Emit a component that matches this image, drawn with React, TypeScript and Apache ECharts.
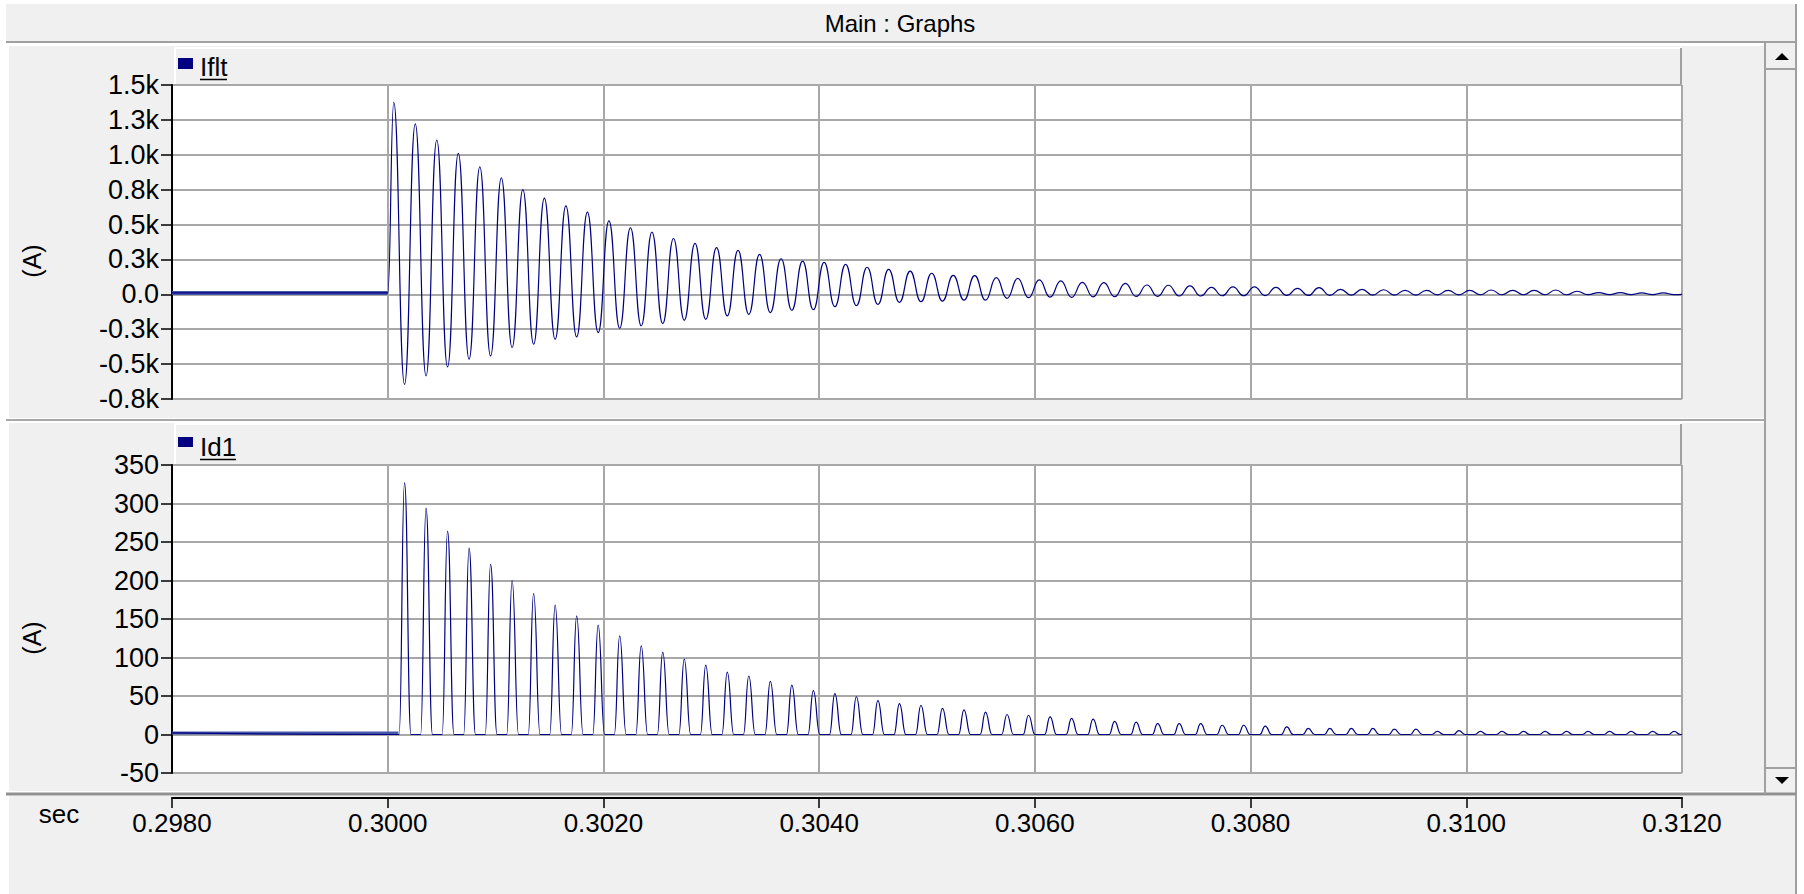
import React, { useEffect, useRef } from 'react';
import * as echarts from 'echarts';

// ---------------- data ----------------
const T_START = 0.298;
const T_END = 0.312;
const FAULT_T = 0.3;
const PEAK_T0 = 0.300056; // time of first Iflt peak (s)
const PERIOD = 0.0001995; // ringing period (s)

const X_TICK_LABELS = ['0.2980', '0.3000', '0.3020', '0.3040', '0.3060', '0.3080', '0.3100', '0.3120'];
const IFLT_TICK_LABELS = ['-0.8k', '-0.5k', '-0.3k', '0.0', '0.3k', '0.5k', '0.8k', '1.0k', '1.3k', '1.5k'];
const ID1_TICK_LABELS = ['-50', '0', '50', '100', '150', '200', '250', '300', '350'];

const IFLT_PRE = 10;
const ID1_PRE = 2;

const ifltPeaks = [
  1375, 1222, 1106, 1010, 913, 834, 751, 689, 634, 589, 527, 477, 446, 400, 365, 334, 315, 286, 255, 238,
  229, 215, 194, 179, 167, 151, 136, 134, 120, 115, 103, 96, 86, 84, 79, 67, 65, 60, 50, 53,
  53, 50, 43, 48, 36, 36, 33, 29, 29, 29, 29, 31, 29, 29, 31, 22, 12, 12, 10, 10,
];
const ifltTroughs = [
  -645, -584, -520, -465, -441, -381, -357, -322, -305, -274, -243, -226, -210, -186, -179, -155, -143, -131, -114, -110,
  -88, -81, -72, -57, -53, -48, -41, -41, -29, -24, -20, -22, -18, -17, -15, -14, -12, -12, -10, -10,
  -9, -8, -8, -7, -6, -6, -5, -5, -4, -4, -3, -3, -3, -3, -3, -2, -2, -2, -2, -2,
];
const id1Peaks = [
  327, 294, 264, 242, 221, 200, 183, 168, 154, 142, 128, 115, 107, 98, 90, 81, 76, 69, 64, 57,
  53, 49, 44, 40, 38, 34, 32, 29, 26, 25, 23, 21, 20, 17, 16, 14, 14, 14, 12, 12,
  11, 10, 8, 8, 8, 8, 7, 7, 4, 5, 4, 4, 4, 4, 4, 4, 4, 4, 4, 4,
];

// pulse edges of Id1 around each peak (s)
const PULSE_RISE = 0.00005;
const PULSE_FALL = 0.00006;

function buildIflt(): number[][] {
  const d: number[][] = [[T_START, IFLT_PRE], [FAULT_T, IFLT_PRE]];
  ifltPeaks.forEach((p, k) => {
    d.push([PEAK_T0 + k * PERIOD, p]);
    d.push([PEAK_T0 + (k + 0.5) * PERIOD, ifltTroughs[k]]);
  });
  d.push([T_END, 0]);
  return d;
}

function buildId1(): number[][] {
  const d: number[][] = [[T_START, ID1_PRE]];
  id1Peaks.forEach((p, k) => {
    const tc = PEAK_T0 + (k + 0.5) * PERIOD;
    d.push([tc - PULSE_RISE, 0]);
    d.push([tc, p]);
    d.push([tc + PULSE_FALL, 0]);
  });
  d.push([T_END, 0]);
  return d;
}

const FONT = "'Liberation Sans', Arial, sans-serif";
const NAVY = '#000080';
const GRID_GRAY = '#a8a8a8';
const PANEL = '#f0f0f0';

export default function App() {
  const ref = useRef<HTMLDivElement>(null);

  useEffect(() => {
    const chart = echarts.init(ref.current!, null, { renderer: 'svg' });

    const txt = (text: string, x: number, y: number, size: number, align = 'left', extra: any = {}) => ({
      type: 'text',
      x,
      y,
      z: 0,
      z2: 5,
      ...extra,
      style: {
        text,
        fontSize: size,
        fontFamily: FONT,
        fill: '#000',
        align,
        textAlign: align,
        verticalAlign: 'middle',
        textVerticalAlign: 'middle',
      },
    });
    const rect = (x: number, y: number, w: number, h: number, fill: string, z2 = 0) => ({
      type: 'rect',
      z: 0,
      z2,
      shape: { x, y, width: w, height: h },
      style: { fill },
    });
    const line = (x1: number, y1: number, x2: number, y2: number, stroke: string, lw: number, z2 = 3) => ({
      type: 'line',
      z: 0,
      z2,
      shape: { x1, y1, x2, y2 },
      style: { stroke, lineWidth: lw },
    });

    const graphics: any[] = [
      // title bar
      rect(6, 4, 1790, 38, PANEL, 0),
      line(6, 42, 1796, 42, '#a0a0a0', 2),
      line(1796, 4, 1796, 894, '#a0a0a0', 2),
      txt('Main : Graphs', 900, 23, 24, 'center'),
      // panels
      rect(9, 46, 1756, 372, PANEL, 0),
      line(6, 420, 1765, 420, GRID_GRAY, 2),
      rect(9, 423, 1756, 368, PANEL, 0),
      line(6, 794, 1796, 794, '#909090', 3),
      rect(9, 796, 1786, 98, PANEL, 0),
      // headers
      rect(175, 48, 1507, 37, PANEL, 1),
      line(175, 48, 1681, 48, '#ffffff', 2),
      line(175, 48, 175, 85, '#ffffff', 2),
      line(1681, 48, 1681, 85, '#a0a0a0', 2),
      rect(175, 424, 1507, 41, PANEL, 1),
      line(175, 424, 1681, 424, '#ffffff', 2),
      line(175, 424, 175, 465, '#ffffff', 2),
      line(1681, 424, 1681, 465, '#a0a0a0', 2),
      // plot backgrounds
      rect(172, 85, 1510, 314, '#ffffff', 1),
      rect(172, 465, 1510, 308, '#ffffff', 1),
      // legends
      rect(178, 58, 15, 11, NAVY, 4),
      txt('Iflt', 200, 67, 26),
      line(200, 79.5, 227, 79.5, '#000', 1.5),
      rect(178, 437, 15, 10, NAVY, 4),
      txt('Id1', 200, 447, 26),
      line(200, 459.5, 236, 459.5, '#000', 1.5),
      // axis titles
      txt('(A)', 32, 261, 25, 'center', { rotation: Math.PI / 2 }),
      txt('(A)', 32, 638, 25, 'center', { rotation: Math.PI / 2 }),
      txt('sec', 59, 814, 26, 'center'),
      // scrollbar
      rect(1765, 43, 31, 751, PANEL, 2),
      line(1765, 43, 1765, 794, '#a0a0a0', 2),
      line(1765, 69, 1796, 69, '#a0a0a0', 2),
      line(1765, 768, 1796, 768, '#a0a0a0', 2),
      {
        type: 'polygon', z: 0, z2: 6,
        shape: { points: [[1775, 60], [1789, 60], [1782, 53]] },
        style: { fill: '#000' },
      },
      {
        type: 'polygon', z: 0, z2: 6,
        shape: { points: [[1775, 777], [1789, 777], [1782, 784]] },
        style: { fill: '#000' },
      },
    ];

    const xLabel = (v: number) => X_TICK_LABELS[Math.round((v - T_START) / 0.002)] ?? '';

    const waveLine = { color: NAVY, width: 1.2 };
    const preLine = { color: '#4858a8', width: 4 };

    const option: any = {
      animation: false,
      backgroundColor: '#ffffff',
      textStyle: { fontFamily: FONT },
      graphic: { elements: graphics },
      grid: [
        { left: 172, top: 85, width: 1510, height: 314, show: false },
        { left: 172, top: 465, width: 1510, height: 308, show: false },
      ],
      xAxis: [
        {
          gridIndex: 0, type: 'value', min: T_START, max: T_END, interval: 0.002, z: 5,
          axisLine: { show: false }, axisTick: { show: false }, axisLabel: { show: false },
          splitLine: { show: true, lineStyle: { color: GRID_GRAY, width: 2 } },
        },
        {
          gridIndex: 1, type: 'value', min: T_START, max: T_END, interval: 0.002, z: 5,
          position: 'bottom', offset: 25,
          axisLine: { show: true, onZero: false, lineStyle: { color: '#000', width: 2 } },
          axisTick: { show: true, length: 10, lineStyle: { color: '#000', width: 1.5 } },
          axisLabel: { show: true, margin: 12, fontSize: 26, color: '#000', fontFamily: FONT, formatter: xLabel },
          splitLine: { show: true, lineStyle: { color: GRID_GRAY, width: 2 } },
        },
      ],
      yAxis: [
        {
          gridIndex: 0, type: 'value', min: -750, max: 1500, interval: 250, z: 5,
          axisLine: { show: true, onZero: false, lineStyle: { color: '#000', width: 2 } },
          axisTick: { show: true, length: 11, lineStyle: { color: '#000', width: 1.5 } },
          axisLabel: {
            margin: 13, fontSize: 27, color: '#000', fontFamily: FONT,
            formatter: (v: number) => IFLT_TICK_LABELS[Math.round((v + 750) / 250)] ?? '',
          },
          splitLine: { show: true, lineStyle: { color: GRID_GRAY, width: 2 } },
        },
        {
          gridIndex: 1, type: 'value', min: -50, max: 350, interval: 50, z: 5,
          axisLine: { show: true, onZero: false, lineStyle: { color: '#000', width: 2 } },
          axisTick: { show: true, length: 11, lineStyle: { color: '#000', width: 1.5 } },
          axisLabel: {
            margin: 13, fontSize: 27, color: '#000', fontFamily: FONT,
            formatter: (v: number) => ID1_TICK_LABELS[Math.round((v + 50) / 50)] ?? '',
          },
          splitLine: { show: true, lineStyle: { color: GRID_GRAY, width: 2 } },
        },
      ],
      series: [
        {
          name: 'Iflt pre', type: 'line', xAxisIndex: 0, yAxisIndex: 0, z: 9, showSymbol: false, silent: true,
          data: [[T_START, IFLT_PRE], [FAULT_T, IFLT_PRE]],
          lineStyle: preLine,
        },
        {
          name: 'Iflt', type: 'line', xAxisIndex: 0, yAxisIndex: 0, z: 10, showSymbol: false,
          smooth: 0.5, smoothMonotone: 'x',
          data: buildIflt(),
          lineStyle: waveLine,
        },
        {
          name: 'Id1 pre', type: 'line', xAxisIndex: 1, yAxisIndex: 1, z: 9, showSymbol: false, silent: true,
          data: [[T_START, ID1_PRE], [FAULT_T + 0.0001, ID1_PRE]],
          lineStyle: { color: '#4858a8', width: 3 },
        },
        {
          name: 'Id1', type: 'line', xAxisIndex: 1, yAxisIndex: 1, z: 10, showSymbol: false,
          smooth: 0.5, smoothMonotone: 'x',
          data: buildId1(),
          lineStyle: waveLine,
        },
      ],
    };

    chart.setOption(option);
    return () => chart.dispose();
  }, []);

  return (
    <div
      ref={ref}
      style={{ position: 'fixed', left: 0, top: 0, width: 1804, height: 894, background: '#fff' }}
    />
  );
}
